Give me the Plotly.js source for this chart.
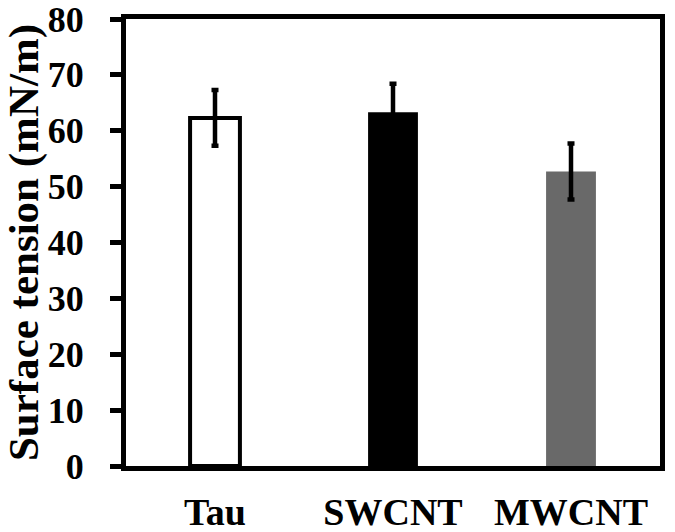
<!DOCTYPE html>
<html>
<head>
<meta charset="utf-8">
<script src="https://cdn.plot.ly/plotly-3.0.1.min.js"></script>
<style>
  html, body { margin: 0; padding: 0; background: #fff; }
  #chart { width: 675px; height: 532px; }
</style>
</head>
<body>
<div id="chart"></div>
<script>
const samples = ['Tau', 'SWCNT', 'MWCNT'];
const tension = [62.3, 63.3, 52.7];
const tensionErr = [5.0, 5.1, 5.0];
const fillColors = ['#ffffff', '#000000', '#696969'];
const lineWidths = [4, 0, 0];

const serif = 'Liberation Serif, Times New Roman, serif';

const trace = {
    x: samples,
    y: tension,
    type: 'bar',
    width: 0.28,
    marker: {
        color: fillColors,
        line: {color: '#000000', width: lineWidths}
    },
    error_y: {
        type: 'data',
        array: tensionErr,
        visible: true,
        color: '#000000',
        thickness: 4.5,
        width: 3.5
    },
    hoverinfo: 'none'
};

const layout = {
    width: 675,
    height: 532,
    paper_bgcolor: '#ffffff',
    plot_bgcolor: '#ffffff',
    showlegend: false,
    margin: {l: 126, r: 15, t: 19, b: 66},
    font: {family: serif, color: '#000000', weight: 'bold'},
    xaxis: {
        showline: true,
        linecolor: '#000000',
        linewidth: 5,
        mirror: true,
        ticks: '',
        ticklabelstandoff: 8,
        ticklabeloverflow: 'allow',
        tickfont: {family: serif, size: 38, color: '#000000', weight: 'bold'},
        showgrid: false,
        zeroline: false,
        fixedrange: true
    },
    yaxis: {
        range: [0, 80],
        dtick: 10,
        showline: true,
        linecolor: '#000000',
        linewidth: 5,
        mirror: true,
        ticks: 'outside',
        ticklen: 11,
        tickwidth: 5,
        tickcolor: '#000000',
        ticklabelstandoff: 19,
        ticklabeloverflow: 'allow',
        tickfont: {family: serif, size: 36, color: '#000000', weight: 'bold'},
        showgrid: false,
        zeroline: false,
        title: {
            text: 'Surface tension (mN/m)',
            font: {family: serif, size: 43, color: '#000000', weight: 'bold'},
            standoff: 4
        },
        fixedrange: true
    }
};

Plotly.newPlot('chart', [trace], layout, {displayModeBar: false, staticPlot: true});
</script>
</body>
</html>
